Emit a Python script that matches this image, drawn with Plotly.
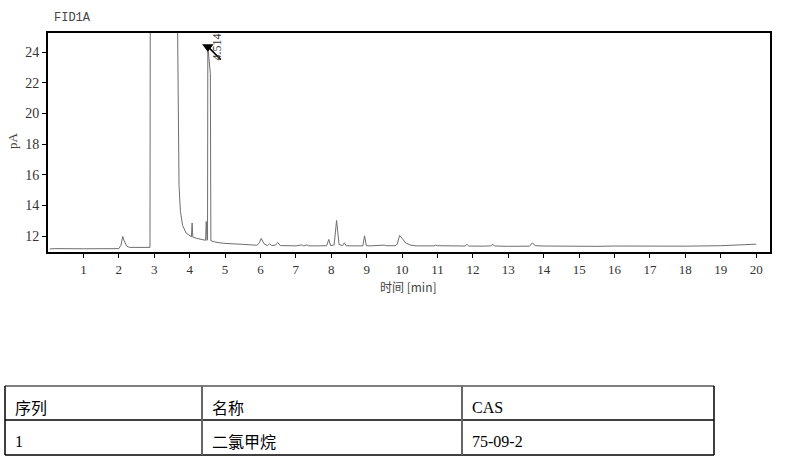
import plotly.graph_objects as go

W, H = 791, 464

# ---- chromatogram data ----
time_min = [0.05, 0.2, 1.0, 1.5, 2.0, 2.06, 2.11, 2.15, 2.22, 2.3, 2.88, 2.895, 3.6, 3.66, 3.68, 3.70,
            3.74, 3.8, 3.9, 4.0, 4.05, 4.07, 4.09, 4.2, 4.3, 4.45, 4.47, 4.49, 4.505, 4.514, 4.585,
            4.60, 4.7, 4.85, 5.0, 5.5, 5.9, 5.97, 6.02, 6.1, 6.2, 6.26, 6.32, 6.42, 6.49, 6.56, 7.0,
            7.17, 7.22, 7.31, 7.36, 7.6, 7.87, 7.93, 7.98, 8.08, 8.15, 8.22, 8.32, 8.37, 8.42, 8.6,
            8.89, 8.94, 8.99, 9.1, 9.3, 9.35, 9.5, 9.55, 9.8, 9.86, 9.93, 10.0, 10.1, 10.25, 10.4,
            10.9, 10.95, 11.0, 11.4, 11.78, 11.83, 11.88, 12.3, 12.5, 12.56, 12.62, 13.0, 13.6,
            13.68, 13.76, 14.0, 15.0, 15.4, 15.5, 16.0, 17.0, 18.0, 19.0, 19.5, 20.0]
signal_pA = [11.16, 11.18, 11.17, 11.17, 11.18, 11.40, 11.97, 11.70, 11.35, 11.26, 11.26, 40.0, 40.0, 25.5, 17.5, 15.3,
             13.6, 12.7, 12.2, 12.0, 11.95, 12.85, 11.93, 11.85, 11.78, 11.72, 12.95, 11.72, 11.75, 24.35, 22.6,
             11.70, 11.62, 11.56, 11.52, 11.46, 11.40, 11.55, 11.85, 11.50, 11.38, 11.50, 11.38, 11.40, 11.58, 11.38, 11.36,
             11.42, 11.36, 11.42, 11.36, 11.36, 11.37, 11.78, 11.38, 11.42, 13.02, 11.45, 11.38, 11.56, 11.37, 11.36,
             11.36, 12.02, 11.37, 11.36, 11.40, 11.37, 11.41, 11.37, 11.37, 11.45, 12.04, 11.85, 11.55, 11.40, 11.36,
             11.36, 11.41, 11.37, 11.34, 11.35, 11.46, 11.35, 11.34, 11.36, 11.46, 11.35, 11.33, 11.34,
             11.56, 11.37, 11.35, 11.32, 11.34, 11.33, 11.35, 11.34, 11.34, 11.37, 11.43, 11.47]

peak_rt = 4.514
peak_height = 24.35
peak_label = "4.514"

x_ticks = list(range(1, 21))
y_ticks = [12, 14, 16, 18, 20, 22, 24]

signal_name = "FID1A"
x_title = "时间 [min]"
y_title = "pA"

table_header = ["序列", "名称", "CAS"]
table_row = ["1", "二氯甲烷", "75-09-2"]

serif = "Liberation Serif, Noto Sans CJK SC, serif"
cjk = "Noto Sans CJK SC, Liberation Serif, sans-serif"

fig = go.Figure()
fig.add_trace(go.Scatter(x=time_min, y=signal_pA, mode="lines",
                         line=dict(color="#6e6e6e", width=1), hoverinfo="skip",
                         cliponaxis=True, showlegend=False))
fig.add_trace(go.Scatter(x=[peak_rt], y=[peak_height], mode="markers",
                         marker=dict(symbol="triangle-down", size=10, color="black"),
                         showlegend=False, cliponaxis=False))


def px(x):
    return x / W


def py(y):
    return 1 - y / H


fig.update_layout(
    width=W, height=H, template="none",
    margin=dict(l=0, r=0, t=0, b=0),
    paper_bgcolor="white", plot_bgcolor="white",
    xaxis=dict(domain=[px(48), px(770)], range=[0, 20.39], tickvals=x_ticks,
               ticktext=[str(v) for v in x_ticks],
               showgrid=False, zeroline=False, showline=True, linecolor="black", linewidth=2,
               mirror=True, ticks="outside", ticklen=4, tickwidth=1, tickcolor="black",
               tickfont=dict(family=serif, size=13, color="#333"), automargin=False),
    yaxis=dict(domain=[py(252), py(33)], range=[10.96, 25.24], tickvals=y_ticks,
               showgrid=False, zeroline=False, showline=True, linecolor="black", linewidth=2,
               mirror=True, ticks="outside", ticklen=4, tickwidth=1, tickcolor="black",
               tickfont=dict(family=serif, size=14, color="#333"), automargin=False),
)

ann = []
ann.append(dict(text=signal_name, x=px(52), y=py(18), xref="paper", yref="paper",
                xanchor="left", yanchor="middle", showarrow=False,
                font=dict(family="Liberation Mono, monospace", size=12, color="#444")))
ann.append(dict(text=y_title, x=px(12), y=py(141), xref="paper", yref="paper", textangle=-90,
                xanchor="center", yanchor="middle", showarrow=False,
                font=dict(family=serif, size=13, color="#444")))
ann.append(dict(text=x_title, x=px(409), y=py(286), xref="paper", yref="paper",
                xanchor="center", yanchor="middle", showarrow=False,
                font=dict(family=cjk, size=12, color="#444")))
ann.append(dict(text=peak_label, x=peak_rt, y=peak_height, xref="x", yref="y", textangle=-90,
                xanchor="center", yanchor="middle", xshift=9, yshift=0, showarrow=False,
                font=dict(family=serif, size=12, color="#333")))

shapes = [dict(type="line", xref="x", yref="y", xsizemode="pixel", ysizemode="pixel",
               xanchor=peak_rt, yanchor=peak_height, x0=1, x1=13, y0=-1, y1=-13,
               line=dict(color="black", width=1.5))]

# ---- table ----
col_x = [5, 202, 462, 714]
row_y = [386, 420, 455]
for yy, c, w in [(row_y[0], "#555", 1.5), (row_y[1], "black", 1.5), (row_y[2], "black", 1.5)]:
    shapes.append(dict(type="line", xref="paper", yref="paper", x0=px(col_x[0]), x1=px(col_x[-1]),
                       y0=py(yy), y1=py(yy), line=dict(color=c, width=w)))
for i, xx in enumerate(col_x):
    c = "#666" if i in (1, 2) else "black"
    w = 2 if i in (1, 2) else 1.5
    shapes.append(dict(type="line", xref="paper", yref="paper", x0=px(xx), x1=px(xx),
                       y0=py(row_y[0]), y1=py(row_y[2]), line=dict(color=c, width=w)))

for j, (h, r) in enumerate(zip(table_header, table_row)):
    for txt, yy in [(h, 407), (r, 441)]:
        fam = serif if txt.isascii() else cjk
        ann.append(dict(text=txt, x=px(col_x[j] + 8), y=py(yy), xref="paper", yref="paper",
                        xanchor="left", yanchor="middle", showarrow=False,
                        font=dict(family=fam, size=16, color="black")))

fig.update_layout(annotations=ann, shapes=shapes)
fig.write_html("out.html", config={"displayModeBar": False},
               post_script="document.body.style.margin='0';document.body.style.overflow='hidden';")
